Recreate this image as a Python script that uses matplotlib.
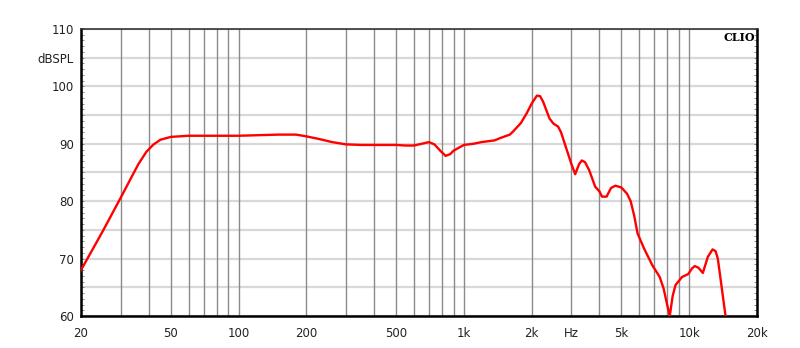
import matplotlib
matplotlib.use("Agg")
import matplotlib.pyplot as plt
from matplotlib.ticker import FixedLocator, NullFormatter

freq = [20, 25, 30, 33, 36, 39, 42, 45, 50, 60, 80, 100, 150, 180, 200, 230, 260,
        300, 350, 400, 500, 550, 600, 650, 700, 740, 790, 830, 870, 900, 1000,
        1100, 1200, 1370, 1450, 1600, 1650, 1790, 1900, 2000, 2110, 2180, 2250,
        2400, 2500, 2620, 2700, 2800, 3000, 3120, 3250, 3340, 3450, 3600, 3830,
        4000, 4100, 4300, 4500, 4700, 5000, 5300, 5500, 5700, 5900, 6300, 6850,
        7400, 7700, 7960, 8200, 8450, 8700, 9300, 9900, 10300, 10600, 11000,
        11500, 12100, 12700, 13100, 13400, 13800, 14500, 14900]
spl = [68.0, 74.8, 80.6, 83.7, 86.5, 88.6, 89.9, 90.7, 91.2, 91.4, 91.4, 91.4,
       91.6, 91.6, 91.3, 90.8, 90.3, 89.9, 89.8, 89.8, 89.8, 89.7, 89.7, 90.0,
       90.3, 89.9, 88.7, 87.9, 88.2, 88.8, 89.8, 90.0, 90.3, 90.6, 91.0, 91.6,
       92.1, 93.6, 95.3, 97.0, 98.4, 98.3, 97.3, 94.4, 93.5, 93.0, 92.0, 90.1,
       86.5, 84.7, 86.5, 87.1, 86.8, 85.4, 82.5, 81.7, 80.8, 80.8, 82.3, 82.7,
       82.4, 81.3, 80.0, 77.5, 74.4, 71.8, 68.9, 66.8, 64.8, 62.2, 60.0, 63.5,
       65.4, 66.8, 67.3, 68.3, 68.7, 68.4, 67.5, 70.3, 71.6, 71.3, 70.0, 66.3,
       60.0, 57.0]

xtick_vals = [20, 50, 100, 200, 500, 1000, 2000, 3000, 5000, 10000, 20000]
xtick_labels = ["20", "50", "100", "200", "500", "1k", "2k", "Hz", "5k", "10k", "20k"]
xgrid_vals = [m * d for d in (10, 100, 1000, 10000) for m in range(1, 10) if 20 <= m * d <= 20000]
ytick_vals = [60, 65, 70, 75, 80, 85, 90, 95, 100, 105, 110]
ytick_labels = ["60", "", "70", "", "80", "", "90", "", "100", "dBSPL", "110"]

fig = plt.figure(figsize=(8.0, 3.48), dpi=100)
ax = fig.add_axes([81 / 800, 1 - 316 / 348, 676 / 800, 287 / 348])

ax.set_xscale("log")
ax.set_xlim(20, 20000)
ax.set_ylim(60, 110)

ax.xaxis.set_major_locator(FixedLocator(xtick_vals))
ax.set_xticklabels(xtick_labels)
ax.xaxis.set_minor_locator(FixedLocator(xgrid_vals))
ax.xaxis.set_minor_formatter(NullFormatter())
ax.yaxis.set_major_locator(FixedLocator(ytick_vals))
ax.set_yticklabels(ytick_labels)
ax.yaxis.set_minor_locator(FixedLocator(list(range(60, 111))))

for xv in xgrid_vals:
    ax.axvline(xv, color="#8a8a8a", lw=1.0, zorder=1)
for yv in ytick_vals:
    ax.axhline(yv, color="#d8d8d8", lw=1.6, zorder=0.9)

ax.plot(freq, spl, color="#ff0000", lw=1.7, zorder=3, solid_joinstyle="round")

ax.tick_params(axis="x", which="both", length=0, pad=8, labelsize=8.5, labelcolor="#222222")
ax.tick_params(axis="y", which="both", direction="in", left=True, right=True,
               length=2.5, width=0.6, color="#777777", labelsize=8.5, labelcolor="#222222", pad=5)

for side in ("left", "bottom", "right"):
    ax.spines[side].set_linewidth(1.8)
    ax.spines[side].set_color("black")
ax.spines["top"].set_linewidth(1.2)
ax.spines["top"].set_color("#333333")

ax.text(0.997, 0.99, "CLIO", transform=ax.transAxes, ha="right", va="top",
        fontsize=8, fontweight="bold", family="DejaVu Serif", color="black", zorder=5)

fig.savefig("out.png", dpi=100, facecolor="white")
